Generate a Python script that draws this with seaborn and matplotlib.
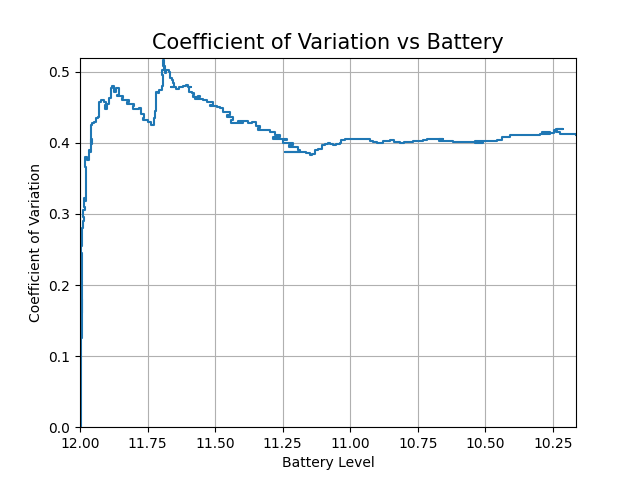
import pandas as pd
import matplotlib
matplotlib.use("Agg")
import matplotlib.pyplot as plt
import seaborn as sns

# Valores (nivel de batería, coeficiente de variación acumulado)
battery = [
    12.000, 11.997, 11.997, 11.995, 11.996, 11.994, 11.996, 11.994, 11.996, 11.993,
    11.992, 11.997, 11.994, 11.993, 11.989, 11.985, 11.988, 11.982, 11.984, 11.980,
    11.978, 11.980, 11.974, 11.968, 11.962, 11.960, 11.956, 11.960, 11.955, 11.948,
    11.940, 11.933, 11.930, 11.922, 11.911, 11.904, 11.908, 11.900, 11.893, 11.885,
    11.880, 11.876, 11.867, 11.856, 11.862, 11.840, 11.845, 11.819, 11.825, 11.800,
    11.805, 11.782, 11.775, 11.763, 11.768, 11.750, 11.737, 11.728, 11.726, 11.724,
    11.719, 11.712, 11.708, 11.698, 11.693, 11.696, 11.689, 11.692, 11.684, 11.686,
    11.680, 11.671, 11.668, 11.660, 11.656, 11.652, 11.665, 11.645, 11.634, 11.620,
    11.608, 11.600, 11.589, 11.596, 11.585, 11.578, 11.583, 11.565, 11.556, 11.575,
    11.545, 11.530, 11.508, 11.520, 11.495, 11.482, 11.470, 11.445, 11.455, 11.434,
    11.440, 11.397, 11.415, 11.380, 11.364, 11.350, 11.334, 11.340, 11.310, 11.297,
    11.280, 11.260, 11.285, 11.245, 11.234, 11.250, 11.212, 11.225, 11.195, 11.186,
    11.240, 11.165, 11.149, 11.140, 11.130, 11.118, 11.105, 11.095, 11.082, 11.075,
    11.064, 11.052, 11.038, 11.035, 11.020, 11.001, 10.980, 10.964, 10.945, 10.927,
    10.915, 10.901, 10.880, 10.853, 10.840, 10.816, 10.800, 10.768, 10.745, 10.730,
    10.716, 10.700, 10.657, 10.670, 10.620, 10.583, 10.509, 10.540, 10.480, 10.457,
    10.440, 10.409, 10.380, 10.324, 10.300, 10.261, 10.290, 10.245, 10.235, 10.213,
    10.240, 10.225, 10.165,
]
cv = [
    0.000, 0.060, 0.120, 0.150, 0.125, 0.180, 0.160, 0.205, 0.207, 0.230,
    0.245, 0.255, 0.262, 0.280, 0.290, 0.296, 0.305, 0.310, 0.322, 0.318,
    0.366, 0.380, 0.376, 0.390, 0.387, 0.405, 0.398, 0.425, 0.428, 0.430,
    0.435, 0.437, 0.458, 0.460, 0.458, 0.453, 0.448, 0.455, 0.463, 0.477,
    0.480, 0.472, 0.477, 0.468, 0.466, 0.463, 0.460, 0.458, 0.455, 0.452,
    0.447, 0.449, 0.440, 0.435, 0.432, 0.430, 0.425, 0.430, 0.435, 0.445,
    0.472, 0.470, 0.475, 0.480, 0.496, 0.502, 0.517, 0.508, 0.505, 0.498,
    0.502, 0.500, 0.492, 0.489, 0.484, 0.479, 0.478, 0.476, 0.479, 0.480,
    0.482, 0.478, 0.479, 0.472, 0.470, 0.468, 0.464, 0.466, 0.465, 0.462,
    0.461, 0.458, 0.454, 0.452, 0.451, 0.449, 0.444, 0.439, 0.436, 0.432,
    0.428, 0.430, 0.431, 0.428, 0.430, 0.424, 0.421, 0.418, 0.418, 0.415,
    0.411, 0.408, 0.405, 0.406, 0.404, 0.400, 0.397, 0.394, 0.390, 0.387,
    0.387, 0.386, 0.383, 0.385, 0.390, 0.392, 0.397, 0.398, 0.400, 0.398,
    0.397, 0.398, 0.400, 0.404, 0.405, 0.406, 0.406, 0.406, 0.405, 0.403,
    0.401, 0.400, 0.402, 0.404, 0.401, 0.400, 0.401, 0.403, 0.402, 0.404,
    0.406, 0.405, 0.405, 0.402, 0.401, 0.401, 0.400, 0.402, 0.403, 0.404,
    0.408, 0.411, 0.411, 0.411, 0.412, 0.415, 0.414, 0.418, 0.420, 0.419,
    0.416, 0.413, 0.411,
]

df = pd.DataFrame({"Battery": battery, "CV": cv})

fig, ax = plt.subplots(figsize=(6.4, 4.8), dpi=100)
# los niveles de batería están cuantizados: trazo en escalones
sns.lineplot(data=df, x="Battery", y="CV", sort=False, estimator=None,
             color="#1f77b4", linewidth=1.5, drawstyle="steps-post", ax=ax)

ax.set_xlim(12.0, 10.165)
ax.set_ylim(0, 0.52)
ax.set_title("Coefficient of Variation vs Battery", fontsize=15)
ax.set_xlabel("Battery Level")
ax.set_ylabel("Coefficient of Variation")
ax.grid(True)

plt.savefig("out.png", dpi=100)
plt.close()
